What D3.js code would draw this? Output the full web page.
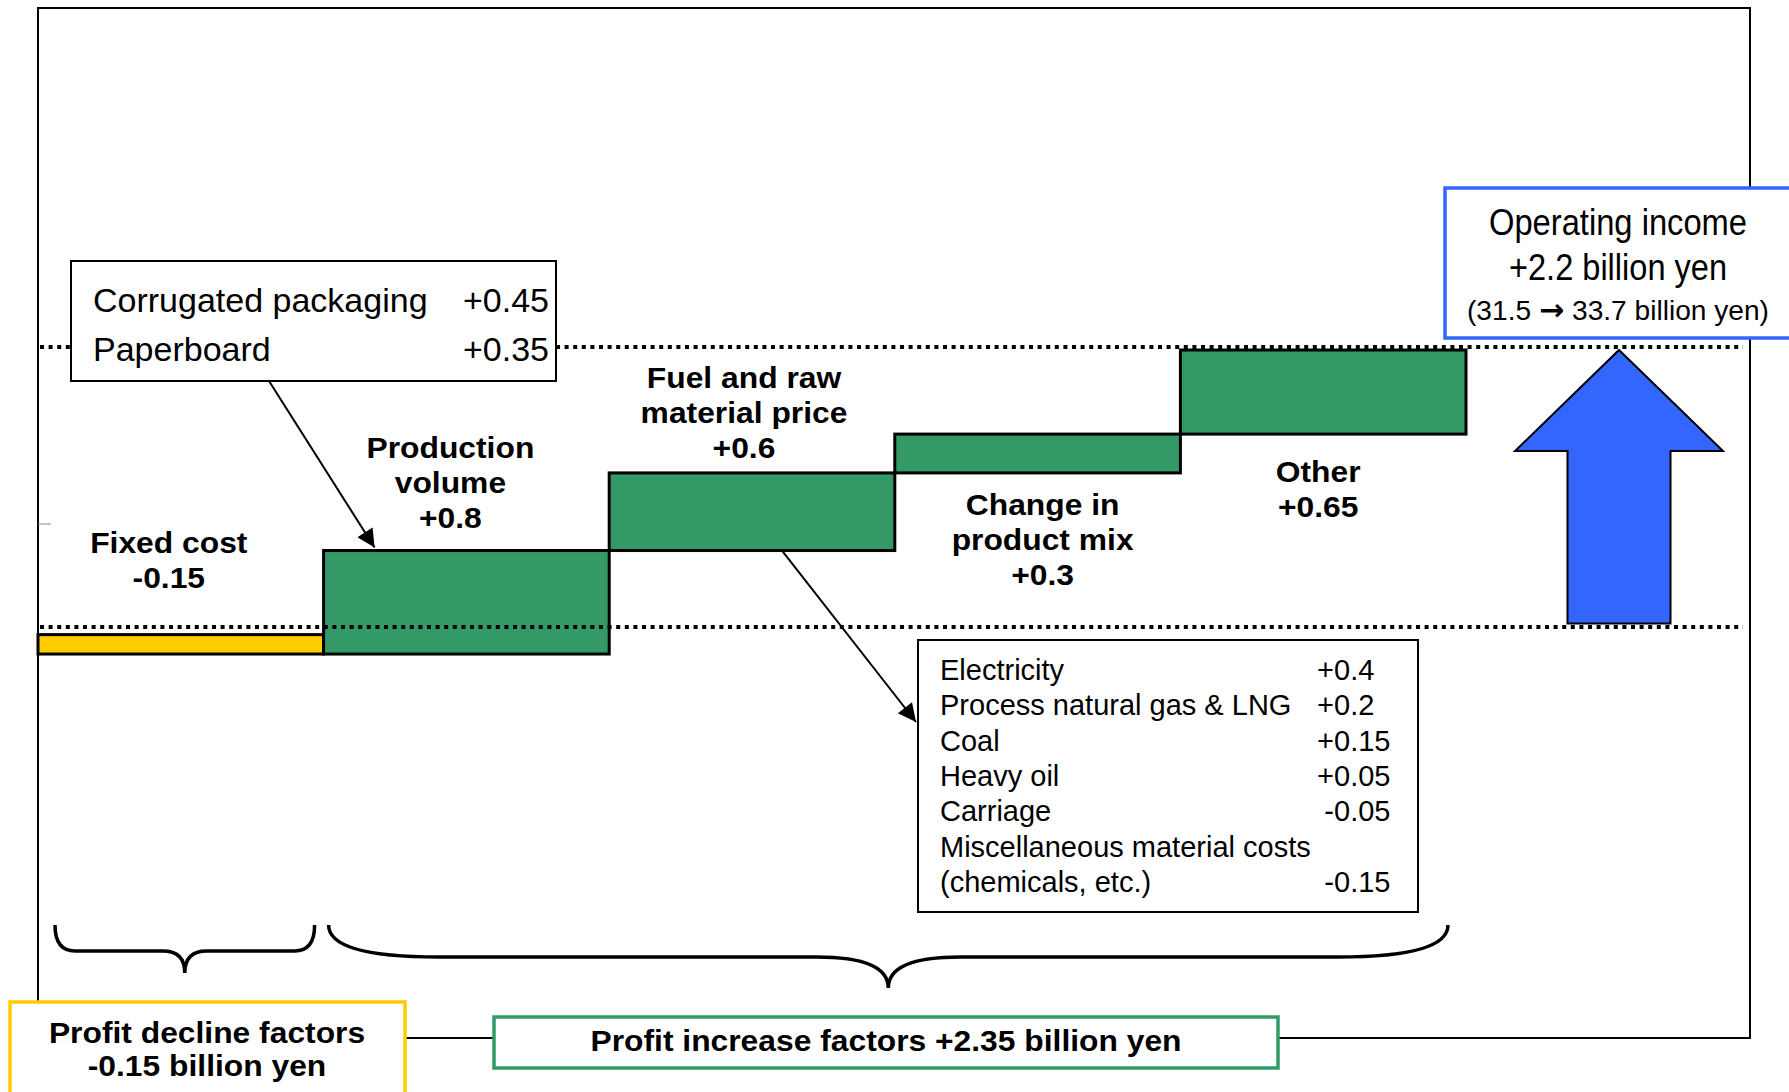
<!DOCTYPE html>
<html>
<head>
<meta charset="utf-8">
<script src="https://cdn.jsdelivr.net/npm/d3@7"></script>
<style>
  html, body { margin: 0; padding: 0; background: #fff; }
  text { font-family: "Liberation Sans", Arial, Helvetica, sans-serif; fill: #000; }
</style>
</head>
<body>
<script>
// values (billion yen)
const factors = ["Fixed cost", "Production volume", "Fuel and raw material price", "Change in product mix", "Other"];
const changes = [-0.15, 0.8, 0.6, 0.3, 0.65];
const factorLabels = [
  ["Fixed cost", "-0.15"],
  ["Production", "volume", "+0.8"],
  ["Fuel and raw", "material price", "+0.6"],
  ["Change in", "product mix", "+0.3"],
  ["Other", "+0.65"]
];
const startIncome = 31.5;
const endIncome = 33.7;
const packagingItems = ["Corrugated packaging", "Paperboard"];
const packagingValues = ["+0.45", "+0.35"];
const fuelItems = ["Electricity", "Process natural gas & LNG", "Coal", "Heavy oil", "Carriage",
                   "Miscellaneous material costs", "(chemicals, etc.)"];
const fuelValues = ["+0.4", "+0.2", "+0.15", "+0.05", "-0.05", "", "-0.15"];
const declineTotal = "-0.15";
const increaseTotal = "+2.35";

const W = 1789, H = 1092;
const GREEN = "#339966", YELLOW = "#FFCC00", BLUE = "#3366FF";

const svg = d3.select("body").append("svg")
  .attr("width", W)
  .attr("height", H);

svg.append("defs").append("marker")
  .attr("id", "head")
  .attr("viewBox", "0 0 10 10")
  .attr("refX", 10).attr("refY", 5)
  .attr("markerUnits", "userSpaceOnUse")
  .attr("markerWidth", 22).attr("markerHeight", 18)
  .attr("orient", "auto")
  .append("path").attr("d", "M0,0 L10,5 L0,10 z").attr("fill", "#000");

var x = d3.scaleBand()
  .domain(factors)
  .range([38, 1466])
  .padding(0);

var y = d3.scaleLinear()
  .domain([31, 34])
  .range([699.3, 311.2]);

// running total for the waterfall
var run = startIncome;
var steps = changes.map((c, i) => {
  var s = { name: factors[i], from: run, to: run + c, change: c, lines: factorLabels[i] };
  run += c;
  return s;
});

// outer frame (the bottom boxes sit on it later)
svg.append("rect")
  .attr("x", 38).attr("y", 8)
  .attr("width", 1750 - 38).attr("height", 1038 - 8)
  .attr("fill", "none").attr("stroke", "#000").attr("stroke-width", 2);

// stray tick mark on the left edge
svg.append("line")
  .attr("x1", 38).attr("x2", 51).attr("y1", 524).attr("y2", 524)
  .attr("stroke", "#888").attr("stroke-width", 1);

// bars
svg.append("g").selectAll("rect")
  .data(steps)
  .enter().append("rect")
    .attr("x", d => x(d.name))
    .attr("width", x.bandwidth())
    .attr("y", d => y(Math.max(d.from, d.to)))
    .attr("height", d => Math.abs(y(d.from) - y(d.to)))
    .attr("fill", d => d.change < 0 ? YELLOW : GREEN)
    .attr("stroke", "#000")
    .attr("stroke-width", 3);

// dotted reference lines at 31.5 and 33.7
var lowerY = y(startIncome) - 7.5;
var upperY = y(endIncome) - 3;
[lowerY, upperY].forEach(ly => {
  svg.append("line")
    .attr("x1", 40).attr("x2", 1743)
    .attr("y1", ly).attr("y2", ly)
    .attr("stroke", "#000").attr("stroke-width", 4)
    .attr("stroke-dasharray", "4,4.6");
});

// bold step labels; offsets relative to bar top or bottom
var labelPos = [
  { dx: -12, ref: "top", dy: -82 },
  { dx: -16, ref: "top", dy: -93 },
  { dx: -8, ref: "top", dy: -85 },
  { dx: 5, ref: "bottom", dy: 42 },
  { dx: -5, ref: "bottom", dy: 48 }
];

boldText = (str, cx, by, size=30) => {
  svg.append("text")
    .attr("transform", "translate(" + cx + "," + by + ") scale(1.06,1)")
    .attr("text-anchor", "middle")
    .attr("font-weight", "bold")
    .attr("font-size", size)
    .text(str);
}

steps.forEach((d, i) => {
  var p = labelPos[i];
  var cx = x(d.name) + x.bandwidth() / 2 + p.dx;
  var base = p.ref == "top" ? y(Math.max(d.from, d.to)) : y(Math.min(d.from, d.to));
  d.lines.forEach((t, j) => boldText(t, cx, base + p.dy + j * 35));
});

// callout: production volume breakdown
svg.append("rect")
  .attr("x", 71).attr("y", 261).attr("width", 485).attr("height", 120)
  .attr("fill", "#fff").attr("stroke", "#000").attr("stroke-width", 2);
packagingItems.forEach((t, i) => {
  svg.append("text").attr("x", 93).attr("y", 312 + i * 49)
    .attr("font-size", 34).text(t);
  svg.append("text").attr("x", 549).attr("y", 312 + i * 49)
    .attr("font-size", 34).attr("text-anchor", "end").text(packagingValues[i]);
});
var prodX = x(factors[1]);
svg.append("line")
  .attr("x1", 269).attr("y1", 381)
  .attr("x2", prodX + 51).attr("y2", y(steps[1].to) - 3)
  .attr("stroke", "#000").attr("stroke-width", 2)
  .attr("marker-end", "url(#head)");

// callout: fuel and raw material breakdown
svg.append("rect")
  .attr("x", 918).attr("y", 640).attr("width", 500).attr("height", 272)
  .attr("fill", "#fff").attr("stroke", "#000").attr("stroke-width", 2);
fuelItems.forEach((t, i) => {
  var by = 680 + i * 35.3;
  svg.append("text").attr("x", 940).attr("y", by).attr("font-size", 29).text(t);
  var v = fuelValues[i];
  if (v) {
    svg.append("text").attr("x", 1334).attr("y", by).attr("font-size", 29)
      .attr("text-anchor", "end").text(v[0]);
    svg.append("text").attr("x", 1334).attr("y", by).attr("font-size", 29)
      .text(v.slice(1));
  }
});
svg.append("line")
  .attr("x1", 782).attr("y1", y(steps[2].from))
  .attr("x2", 916).attr("y2", 722)
  .attr("stroke", "#000").attr("stroke-width", 2)
  .attr("marker-end", "url(#head)");

// big blue arrow for the total change
var ax = 1619, headHalf = 104, shaftHalf = 51.5;
var tipY = y(endIncome), headY = tipY + 101, footY = lowerY - 3.5;
svg.append("polygon")
  .attr("points", [
    [ax, tipY], [ax + headHalf, headY], [ax + shaftHalf, headY], [ax + shaftHalf, footY],
    [ax - shaftHalf, footY], [ax - shaftHalf, headY], [ax - headHalf, headY]
  ].map(p => p.join(",")).join(" "))
  .attr("fill", BLUE).attr("stroke", "#000").attr("stroke-width", 2);

// operating income box
svg.append("rect")
  .attr("x", 1445).attr("y", 188).attr("width", 360).attr("height", 150)
  .attr("fill", "#fff").attr("stroke", BLUE).attr("stroke-width", 3.5);
svg.append("text").attr("x", 1618).attr("y", 235).attr("font-size", 37)
  .attr("text-anchor", "middle")
  .attr("textLength", 258).attr("lengthAdjust", "spacingAndGlyphs")
  .text("Operating income");
svg.append("text").attr("x", 1618).attr("y", 280).attr("font-size", 37)
  .attr("text-anchor", "middle")
  .attr("textLength", 218).attr("lengthAdjust", "spacingAndGlyphs")
  .text("+" + (endIncome - startIncome).toFixed(1) + " billion yen");
var t3 = svg.append("text").attr("x", 1618).attr("y", 320).attr("font-size", 28)
  .attr("text-anchor", "middle")
  .attr("textLength", 302).attr("lengthAdjust", "spacingAndGlyphs");
t3.append("tspan").text("(" + startIncome + " ");
t3.append("tspan")
  .style("font-family", "'DejaVu Sans', sans-serif")
  .attr("font-weight", "bold").attr("font-size", 30)
  .text("\u2192");
t3.append("tspan").text(" " + endIncome + " billion yen)");

// curly braces under the bars
bracePath = (x0, x1, top, mid, tip, r, rc) => {
  var xc = (x0 + x1) / 2;
  return "M" + x0 + "," + top +
    " Q" + x0 + "," + mid + " " + (x0 + r) + "," + mid +
    " L" + (xc - rc) + "," + mid +
    " Q" + xc + "," + mid + " " + xc + "," + tip +
    " Q" + xc + "," + mid + " " + (xc + rc) + "," + mid +
    " L" + (x1 - r) + "," + mid +
    " Q" + x1 + "," + mid + " " + x1 + "," + top;
}
svg.append("path")
  .attr("d", bracePath(x(factors[0]) + 17, x(factors[0]) + x.bandwidth() - 9, 925, 951, 973, 20, 22))
  .attr("fill", "none").attr("stroke", "#000").attr("stroke-width", 3.5);
svg.append("path")
  .attr("d", bracePath(x(factors[1]) + 5, x(factors[4]) + x.bandwidth() - 18, 925, 957, 988, 110, 72))
  .attr("fill", "none").attr("stroke", "#000").attr("stroke-width", 3.5);

// summary boxes at the bottom
svg.append("rect")
  .attr("x", 10).attr("y", 1002).attr("width", 395).attr("height", 110)
  .attr("fill", "#fff").attr("stroke", YELLOW).attr("stroke-width", 3.5);
boldText("Profit decline factors", 207, 1043);
boldText(declineTotal + " billion yen", 207, 1076);

svg.append("rect")
  .attr("x", 494).attr("y", 1017).attr("width", 784).attr("height", 51)
  .attr("fill", "#fff").attr("stroke", GREEN).attr("stroke-width", 3.5);
boldText("Profit increase factors " + increaseTotal + " billion yen", 886, 1051);
</script>
</body>
</html>
